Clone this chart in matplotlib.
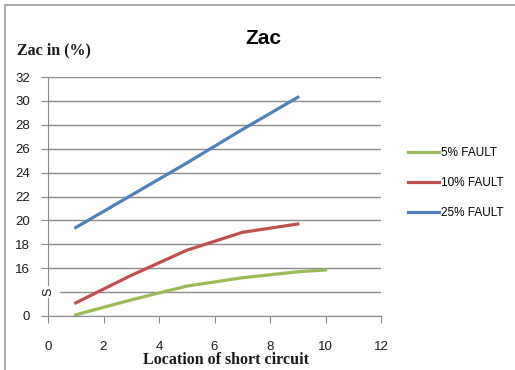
import matplotlib
matplotlib.use("Agg")
import matplotlib.pyplot as plt
import matplotlib.patches as mpatches

# Dados (eixo Y quebrado: "0" na base, "S" = quebra)
x_5 = [1, 3, 5, 7, 9, 10]
zac_5 = [12.1, 13.35, 14.5, 15.2, 15.7, 15.85]
x_10 = [1, 3, 5, 7, 9]
zac_10 = [13.1, 15.4, 17.5, 19.0, 19.7]
x_25 = [1, 3, 5, 7, 9]
zac_25 = [19.4, 22.1, 24.8, 27.6, 30.3]

series_labels = ["5% FAULT", "10% FAULT", "25% FAULT"]
x_ticks = [0, 2, 4, 6, 8, 10, 12]
y_ticks = [12, 14, 16, 18, 20, 22, 24, 26, 28, 30, 32]
y_tick_labels = ["0", "", "16", "18", "20", "22", "24", "26", "28", "30", "32"]

COLORS = {'green': '#9BBB59', 'red': '#C0504D', 'blue': '#4F81BD',
          'grid': '#8C8C8C', 'text': '#1a1a1a'}

plt.rcParams['font.family'] = ['Liberation Sans', 'DejaVu Sans']

fig = plt.figure(figsize=(5.15, 3.7), dpi=100)
ax = fig.add_axes([48 / 515, 54 / 370, 333 / 515, 239 / 370])

# borda do gráfico
fig.patches.append(mpatches.Rectangle((5 / 515, -0.1), 1.2, (365 / 370) + 0.1,
                                      transform=fig.transFigure, fill=False,
                                      edgecolor='#9a9a9a', lw=1.2))

ax.plot(x_5, zac_5, color=COLORS['green'], lw=2.3, label=series_labels[0])
ax.plot(x_10, zac_10, color=COLORS['red'], lw=2.3, label=series_labels[1])
ax.plot(x_25, zac_25, color=COLORS['blue'], lw=2.3, label=series_labels[2])

ax.set_xlim(0, 12)
ax.set_ylim(12, 32)
ax.set_xticks(x_ticks)
ax.set_yticks(y_ticks)
ax.set_yticklabels(y_tick_labels)

ax.grid(axis='y', color=COLORS['grid'], lw=1)
ax.set_axisbelow(True)
ax.get_ygridlines()[1].set_visible(False)
ax.yaxis.get_major_ticks()[1].tick1line.set_visible(False)
ax.axhline(14, xmin=12 / 333, xmax=1, color=COLORS['grid'], lw=1, zorder=0.5)

for s in ['top', 'right']:
    ax.spines[s].set_visible(False)
for s in ['left', 'bottom']:
    ax.spines[s].set_color(COLORS['grid'])

ax.tick_params(axis='y', length=5, color=COLORS['grid'], pad=8,
               labelsize=9.5, labelcolor=COLORS['text'])
ax.tick_params(axis='x', length=5, color=COLORS['grid'], pad=13,
               labelsize=9.5, labelcolor=COLORS['text'])

# marca de quebra do eixo
ax.text(0, 14, "S", rotation=90, ha='center', va='center', fontsize=9,
        color=COLORS['text'], zorder=5, clip_on=False,
        bbox=dict(boxstyle='square,pad=0.15', fc='white', ec='none'))

fig.text(263 / 515, 1 - 38 / 370, "Zac", ha='center', va='center',
         fontsize=15, fontweight='bold', color='black')
fig.text(17 / 515, 1 - 50 / 370, "Zac in (%)", ha='left', va='center',
         fontsize=11.5, fontweight='bold', family=['Liberation Serif', 'DejaVu Serif'],
         color=COLORS['text'])
fig.text(226 / 515, 1 - 360 / 370, "Location of short circuit", ha='center',
         va='center', fontsize=11.5, fontweight='bold',
         family=['Liberation Serif', 'DejaVu Serif'], color=COLORS['text'])

ax.legend(loc='center left', bbox_to_anchor=(408 / 515, 1 - 183 / 370),
          bbox_transform=fig.transFigure, frameon=False, fontsize=8.5,
          handlelength=2.6, handletextpad=0.2, labelspacing=1.55,
          borderpad=0, borderaxespad=0)

fig.savefig("out.png", dpi=100)
